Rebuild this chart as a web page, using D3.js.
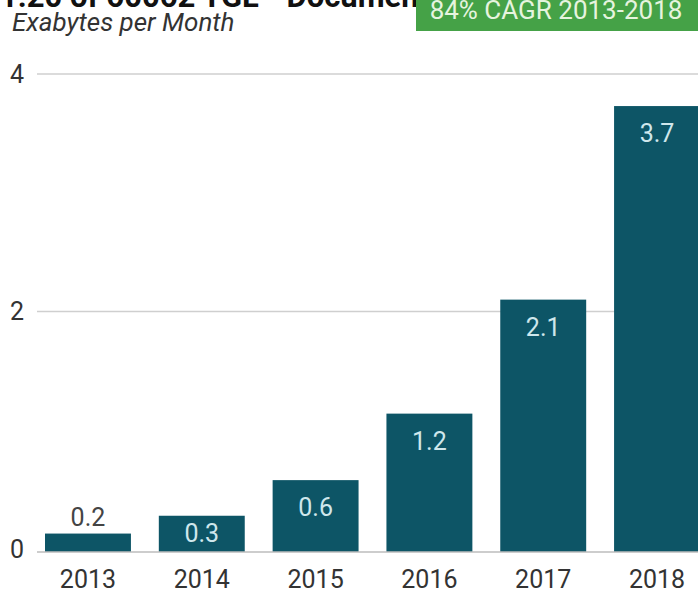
<!DOCTYPE html>
<html>
<head>
<meta charset="utf-8">
<script src="https://cdn.jsdelivr.net/npm/d3@7"></script>
<style>
  body { margin: 0; background: #fff; }
  svg { display: block; font-family: Roboto, "Liberation Sans", Arial, sans-serif; }
</style>
</head>
<body>
<svg id="chart" width="698" height="589"></svg>
<script>
// data
var years = ["2013", "2014", "2015", "2016", "2017", "2018"];
var traffic = [0.13, 0.28, 0.58, 1.14, 2.1, 3.73];
var valueLabels = ["0.2", "0.3", "0.6", "1.2", "2.1", "3.7"];
var yTicks = [0, 2, 4];
var unitLabel = "Exabytes per Month";
var cagrLabel = "84% CAGR 2013-2018";
var headerText = "1.20 of 60062 TGL - Document 000 Filed 06/18 Page 1";

var svg = d3.select("#chart");
var W = 698, H = 589;

var x = d3.scaleBand()
  .domain(years)
  .range([45, 700])
  .paddingInner(0.245)
  .paddingOuter(0);

var y = d3.scaleLinear()
  .domain([0, 4])
  .range([549, 74]);

// clipped header text from the scanned page
svg.append("text")
  .attr("x", 0)
  .attr("y", 7)
  .attr("font-size", 31)
  .attr("font-weight", "bold")
  .attr("fill", "#111")
  .text(headerText);

// gridlines
svg.append("g")
  .selectAll("line")
  .data(yTicks.filter(function(d) { return d > 0; }))
  .enter().append("line")
  .attr("x1", 37).attr("x2", W)
  .attr("y1", function(d) { return y(d); })
  .attr("y2", function(d) { return y(d); })
  .attr("stroke", "#cfcfcf")
  .attr("stroke-width", 1.5);

// y tick labels
svg.append("g")
  .selectAll("text")
  .data(yTicks)
  .enter().append("text")
  .attr("x", 17)
  .attr("y", function(d) { return y(d); })
  .attr("dy", "0.35em")
  .attr("text-anchor", "middle")
  .attr("font-size", 25)
  .attr("fill", "#333")
  .text(function(d) { return d; });

// bars
svg.append("g")
  .selectAll("rect")
  .data(traffic)
  .enter().append("rect")
  .attr("x", function(d, i) { return x(years[i]); })
  .attr("width", x.bandwidth())
  .attr("y", function(d) { return y(d); })
  .attr("height", function(d) { return y(0) - y(d) + 3; })
  .attr("fill", "#0d5566");

// baseline
svg.append("line")
  .attr("x1", 37).attr("x2", W)
  .attr("y1", y(0) + 3).attr("y2", y(0) + 3)
  .attr("stroke", "#bdbdbd")
  .attr("stroke-width", 1.5);

// value labels
svg.append("g")
  .selectAll("text")
  .data(traffic)
  .enter().append("text")
  .attr("x", function(d, i) { return x(years[i]) + x.bandwidth() / 2; })
  .attr("y", function(d) {
    var h = y(0) - y(d);
    if (h < 20) return y(d) - 8;
    if (h < 40) return y(d) + h / 2 + 10;
    return y(d) + 36;
  })
  .attr("text-anchor", "middle")
  .attr("font-size", 25)
  .attr("fill", function(d) { return (y(0) - y(d)) < 20 ? "#444" : "#cfe7ec"; })
  .text(function(d, i) { return valueLabels[i]; });

// x labels
svg.append("g")
  .selectAll("text")
  .data(years)
  .enter().append("text")
  .attr("x", function(d) { return x(d) + x.bandwidth() / 2; })
  .attr("y", 588)
  .attr("text-anchor", "middle")
  .attr("font-size", 25)
  .attr("fill", "#333")
  .text(function(d) { return d; });

// unit label
svg.append("text")
  .attr("x", 12)
  .attr("y", 31)
  .attr("font-size", 26)
  .attr("font-style", "italic")
  .attr("fill", "#333")
  .text(unitLabel);

// CAGR badge
svg.append("rect")
  .attr("x", 416).attr("y", -2)
  .attr("width", W - 416).attr("height", 33)
  .attr("fill", "#45a247");
svg.append("text")
  .attr("x", 556)
  .attr("y", 19)
  .attr("text-anchor", "middle")
  .attr("font-size", 26)
  .attr("fill", "#e6f4df")
  .text(cagrLabel);
</script>
</body>
</html>
